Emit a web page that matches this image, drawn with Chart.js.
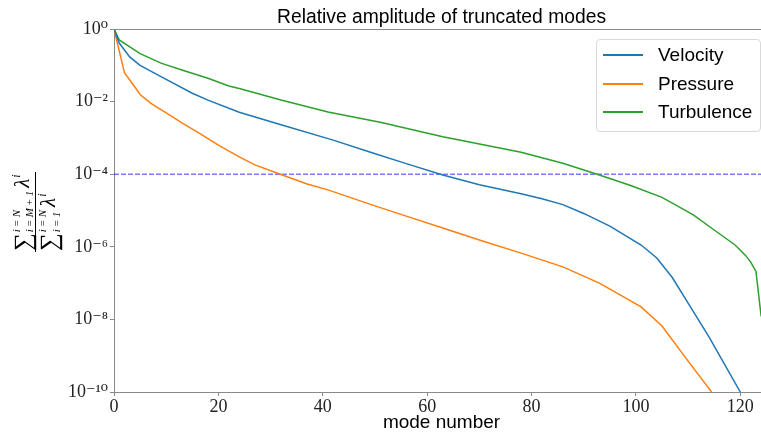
<!DOCTYPE html>
<html>
<head>
<meta charset="utf-8">
<script src="https://cdn.jsdelivr.net/npm/chart.js@4/dist/chart.umd.min.js"></script>
<style>
  html, body { margin: 0; padding: 0; background: #fff; overflow: hidden; }
  #wrap { position: relative; width: 761px; height: 437px; overflow: hidden; }
  #c { position: absolute; left: 0; top: 0; }
  #legend { position: absolute; left: 596px; top: 39px; width: 165px; height: 93px;
            border: 1px solid #d9d9d9; border-radius: 4px; background: rgba(255,255,255,0.85);
            box-sizing: border-box; font-family: "Liberation Sans", Arial, sans-serif; font-size: 19px; color: #000; }
  .row { position: absolute; left: 0; height: 22px; width: 100%; }
  .row .ln { position: absolute; left: 6px; top: 10px; width: 40px; height: 2px; }
  .row .tx { position: absolute; left: 61px; top: 0; line-height: 22px; white-space: nowrap; }
</style>
</head>
<body>
<div id="wrap">
  <canvas id="c" width="770" height="437"></canvas>
  <div id="legend"></div>
</div>
<script>
// ---- data ----
const chartTitle = "Relative amplitude of truncated modes";
const xTitle = "mode number";
const xTicks = [0, 20, 40, 60, 80, 100, 120];
const yTicks = [1e-10, 1e-8, 1e-6, 1e-4, 1e-2, 1];
const yTickLabels = ["10\u207B\u00B9\u2070", "10\u207B\u2078", "10\u207B\u2076", "10\u207B\u2074", "10\u207B\u00B2", "10\u2070"];
const seriesNames = ["Velocity", "Pressure", "Turbulence"];
const threshold = 1e-4;

const modesVelocity = [0, 1, 3, 5, 9, 15, 18, 24, 32, 42, 49, 56, 63, 70, 78, 82, 86, 90, 95, 101, 104, 107, 110, 114, 120];
const velocity = [1, 0.41, 0.17, 0.10, 0.049, 0.017, 0.011, 5.1e-3, 2.3e-3, 8.7e-4, 4.1e-4, 1.96e-4, 9.5e-5, 5.1e-5, 2.9e-5, 2.1e-5, 1.45e-5, 8.3e-6, 3.7e-6, 1.12e-6, 4.9e-7, 1.4e-7, 2.8e-8, 3.3e-9, 1e-10];

const modesPressure = [0, 2, 4, 5, 7, 9, 11, 13, 16, 18, 20, 24, 27, 32, 37, 41, 49, 56, 63, 70, 78, 86, 93, 101, 105, 110, 114.5];
const pressure = [1, 0.063, 0.0252, 0.0157, 9.1e-3, 6.0e-3, 4.0e-3, 2.6e-3, 1.45e-3, 9.6e-4, 6.3e-4, 3.0e-4, 1.8e-4, 9.8e-5, 5.4e-5, 3.7e-5, 1.5e-5, 7.0e-6, 3.3e-6, 1.54e-6, 6.7e-7, 2.8e-7, 1.0e-7, 2.2e-8, 6.6e-9, 7.1e-10, 1e-10];

const modesTurbulence = [0, 1, 5, 9, 13, 18, 22, 24, 32, 41, 51, 63, 78, 86, 93, 99, 105, 111, 115, 119, 121, 122, 123, 124];
const turbulence = [1, 0.50, 0.21, 0.115, 0.074, 0.044, 0.027, 0.023, 0.011, 5.2e-3, 2.7e-3, 1.07e-3, 4.0e-4, 2.0e-4, 9.5e-5, 4.9e-5, 2.3e-5, 7.6e-6, 2.9e-6, 1.12e-6, 5.8e-7, 3.8e-7, 2.1e-7, 1.2e-8];

// ---- styling ----
const colors = ["#1f77b4", "#ff7f0e", "#2ca02c"];
const axisColor = "#8a8a8a";
const serif = '"Liberation Serif", "DejaVu Serif", serif';
const sans = '"Liberation Sans", Arial, sans-serif';

function pts(xs, ys) { return xs.map((x, i) => ({ x: x, y: ys[i] })); }

const datasets = [
  { label: seriesNames[0], data: pts(modesVelocity, velocity), borderColor: colors[0] },
  { label: seriesNames[1], data: pts(modesPressure, pressure), borderColor: colors[1] },
  { label: seriesNames[2], data: pts(modesTurbulence, turbulence), borderColor: colors[2] },
  { label: "threshold", data: [{ x: 0, y: threshold }, { x: 125.5, y: threshold }],
    borderColor: "rgba(0,0,255,0.52)", borderDash: [5, 2] }
].map(d => Object.assign({ borderWidth: 1.5, pointRadius: 0, fill: false, tension: 0 }, d));

const decorPlugin = {
  id: "decor",
  afterDraw(chart) {
    const { ctx, chartArea: a } = chart;
    ctx.save();
    // top spine
    ctx.strokeStyle = axisColor; ctx.lineWidth = 1;
    ctx.beginPath(); ctx.moveTo(a.left, a.top + 0.5); ctx.lineTo(a.right, a.top + 0.5); ctx.stroke();
    // title
    ctx.fillStyle = "#000"; ctx.font = "19.3px " + sans; ctx.textAlign = "center"; ctx.textBaseline = "alphabetic";
    ctx.fillText(chartTitle, (a.left + a.right) / 2, 23);
    // y-axis label: fraction, rotated
    ctx.translate(35, 212);
    ctx.rotate(-Math.PI / 2);
    ctx.textAlign = "left";
    function drawSum(u, b, sup, sub, supOff, subOff) {
      ctx.font = "25px " + serif;
      ctx.fillText("\u2211", u, b + 2);
      const w = ctx.measureText("\u2211").width;
      ctx.font = "italic 11px " + serif;
      const ws = Math.max(ctx.measureText(sup).width, ctx.measureText(sub).width);
      ctx.fillText(sup, u + w + 1, b + supOff);
      ctx.fillText(sub, u + w + 1, b + subOff);
      let x = u + w + 1 + ws + 3;
      ctx.font = "italic 21px " + serif;
      ctx.fillText("\u03BB", x, b);
      x += ctx.measureText("\u03BB").width;
      ctx.font = "italic 12px " + serif;
      ctx.fillText("i", x + 1, b - 9);
    }
    drawSum(-39, -6, "i\u2009=\u2009N", "i\u2009=\u2009M\u2009+\u20091", -9, 4);
    drawSum(-39, 20, "i\u2009=\u2009N", "i\u2009=\u20091", -9, 5);
    ctx.strokeStyle = "#000"; ctx.lineWidth = 1;
    ctx.beginPath(); ctx.moveTo(-40, 0.5); ctx.lineTo(40, 0.5); ctx.stroke();
    ctx.restore();
  }
};

new Chart(document.getElementById("c"), {
  type: "line",
  data: { datasets: datasets },
  options: {
    responsive: false,
    animation: false,
    devicePixelRatio: 1,
    layout: { padding: { top: 29, left: 0, right: 1, bottom: 0 } },
    plugins: { legend: { display: false }, title: { display: false }, tooltip: { enabled: false } },
    scales: {
      x: {
        type: "linear", min: 0, max: 125.5,
        afterBuildTicks: s => { s.ticks = xTicks.map(v => ({ value: v })); },
        afterFit: s => { s.height = 45; },
        ticks: { color: "#222", font: { family: serif, size: 18 }, padding: 0, maxRotation: 0 },
        grid: { display: true, drawOnChartArea: false, drawTicks: true, tickLength: 4, color: axisColor },
        border: { display: true, color: axisColor, width: 1 },
        title: { display: true, text: xTitle, color: "#000", font: { family: sans, size: 19 }, padding: { top: 0, bottom: 3 } }
      },
      y: {
        type: "logarithmic", min: 1e-10, max: 1,
        afterBuildTicks: s => { s.ticks = yTicks.map(v => ({ value: v })); },
        afterFit: s => { s.width = 114; },
        ticks: {
          color: "#222", font: { family: serif, size: 18 }, padding: 2,
          callback: (v) => { const i = yTicks.findIndex(t => Math.abs(Math.log10(t) - Math.log10(v)) < 1e-6); return i >= 0 ? yTickLabels[i] : ""; }
        },
        grid: { display: true, drawOnChartArea: false, drawTicks: true, tickLength: 4, color: axisColor },
        border: { display: true, color: axisColor, width: 1 }
      }
    }
  },
  plugins: [decorPlugin]
});

// HTML legend built from the series
const legend = document.getElementById("legend");
seriesNames.forEach((name, i) => {
  const row = document.createElement("div");
  row.className = "row";
  row.style.top = Math.round(4 + i * 28.7) + "px";
  row.innerHTML = '<span class="ln" style="background:' + colors[i] + '"></span><span class="tx"></span>';
  row.querySelector(".tx").textContent = name;
  legend.appendChild(row);
});
</script>
</body>
</html>
